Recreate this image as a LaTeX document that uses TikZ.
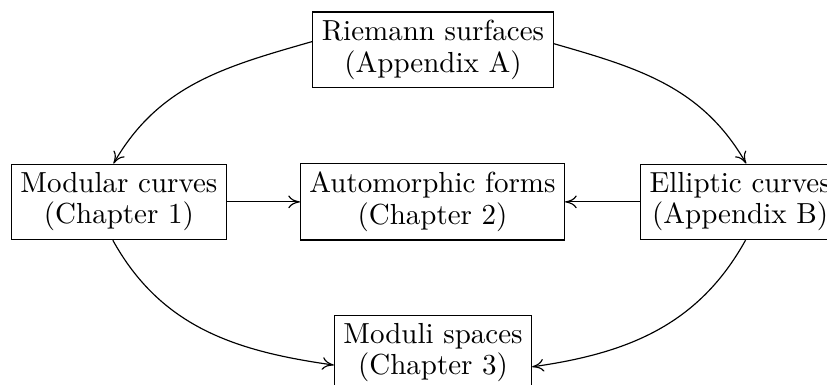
\documentclass[tikz,border=0pt]{standalone}
\usetikzlibrary{arrows.meta}
\begin{document}
\begin{tikzpicture}[x=0.34483pt, y=0.34483pt, >={Computer Modern Rightarrow[length=4pt, width=4.4pt]},
  box/.style={draw, align=center, font=\fontsize{10}{10.8}\selectfont,
    inner xsep=3.1pt, inner ysep=2.9pt}]
\useasboundingbox (0,0) rectangle (827,-385);
\node[box] (R) at (433,-50) {Riemann surfaces\\(Appendix A)};
\node[box] (M) at (118.9,-201.9) {Modular curves\\(Chapter 1)};
\node[box] (A) at (432.5,-201.9) {Automorphic forms\\(Chapter 2)};
\node[box, anchor=west] (E) at (640,-201.9) {Elliptic curves\\(Appendix B)};
\node[box] (D) at (433,-352.9) {Moduli spaces\\(Chapter 3)};
\draw[->] (M) -- (A);
\draw[->] (E) -- (A);
\draw[->] (R.176.8) to[out=196, in=60] (M.98.5);
\draw[->] (R.3.2) to[out=-16, in=120] (E.81.2);
\draw[->] (M.261.5) to[out=-61, in=172] (D.187.6);
\draw[->] (E.278.8) to[out=241, in=8] (D.352.4);
\end{tikzpicture}
\end{document}
